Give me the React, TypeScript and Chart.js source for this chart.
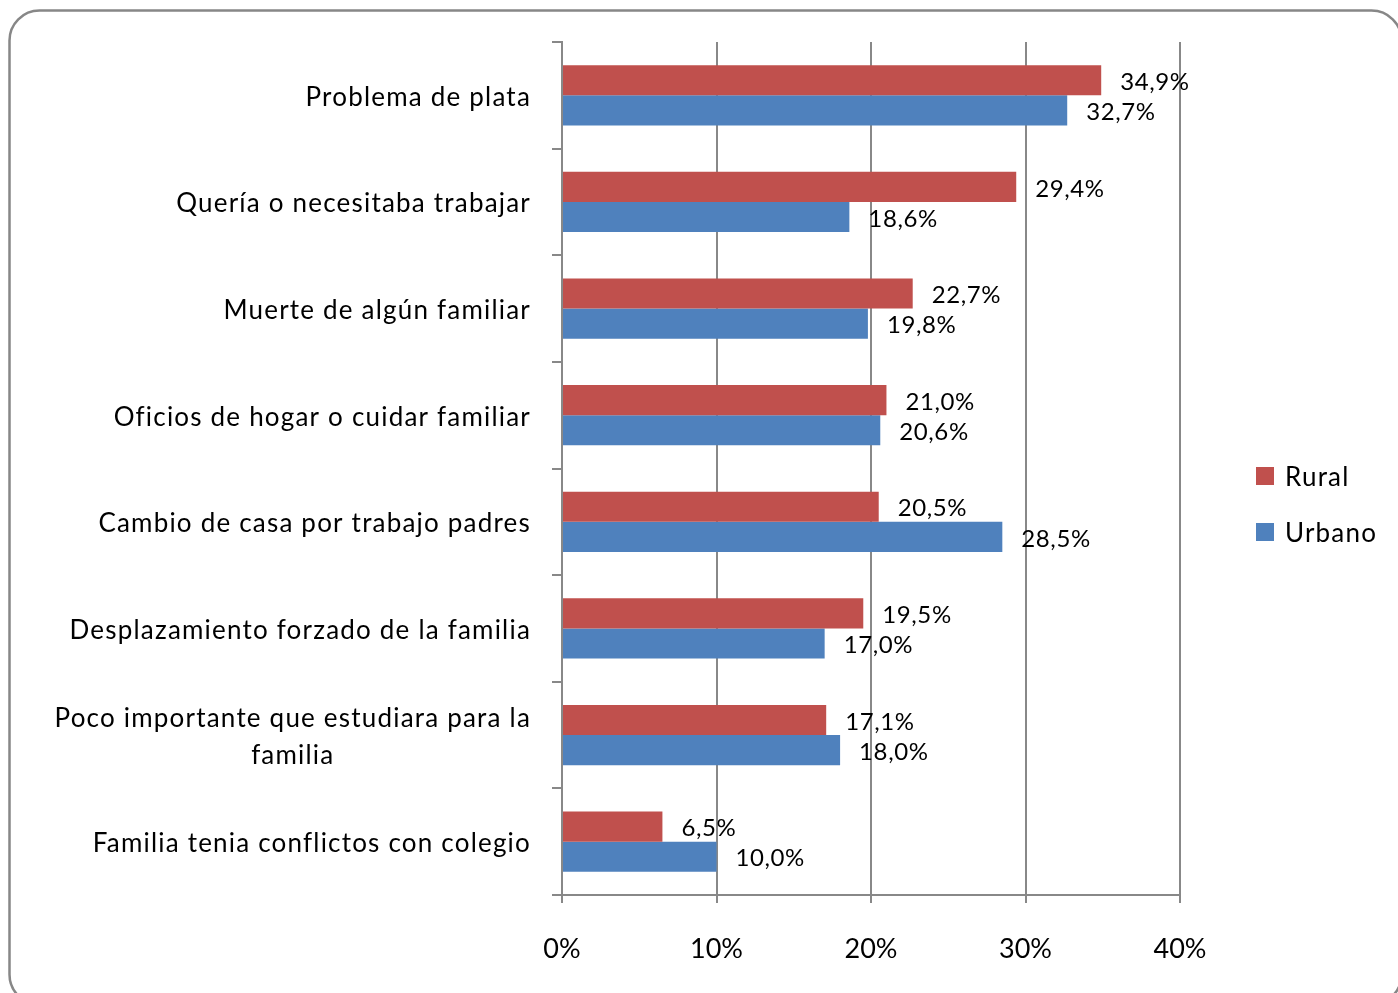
import React, { useEffect, useRef } from 'react';
import { Chart, registerables } from 'chart.js';

Chart.register(...registerables);

const categories: (string | string[])[] = [
  'Problema de plata',
  'Quería o necesitaba trabajar',
  'Muerte de algún familiar',
  'Oficios de hogar o cuidar familiar',
  'Cambio de casa por trabajo padres',
  'Desplazamiento forzado de la familia',
  ['Poco importante que estudiara para la', 'familia'],
  'Familia tenia conflictos con colegio',
];
const rural = [34.9, 29.4, 22.7, 21.0, 20.5, 19.5, 17.1, 6.5];
const urbano = [32.7, 18.6, 19.8, 20.6, 28.5, 17.0, 18.0, 10.0];
const xTicks = [0, 10, 20, 30, 40];
const seriesNames = ['Rural', 'Urbano'];
const seriesColors = ['#C0504D', '#4F81BD'];

const FONT = 'Lato, "Open Sans", sans-serif';
const GRID = '#888888';

const fmt = (v: number) => v.toFixed(1).replace('.', ',') + '%';

const framePlugin = {
  id: 'frame',
  beforeDraw(chart: any) {
    const ctx = chart.ctx;
    ctx.save();
    ctx.fillStyle = '#ffffff';
    ctx.fillRect(0, 0, chart.width, chart.height);
    ctx.strokeStyle = '#878787';
    ctx.lineWidth = 2.5;
    ctx.beginPath();
    (ctx as any).roundRect(9.5, 10.5, 1392, 994, 30);
    ctx.stroke();
    ctx.restore();
  },
};

const catLabelPlugin = {
  id: 'catLabels',
  afterDraw(chart: any) {
    const ctx = chart.ctx;
    const y = chart.scales.y;
    ctx.save();
    ctx.font = `26px ${FONT}`;
    (ctx as any).letterSpacing = '1.2px';
    ctx.fillStyle = '#000000';
    ctx.textBaseline = 'middle';
    ctx.textAlign = 'center';
    const rightX = 531;
    const lh = 37;
    categories.forEach((c, i) => {
      const lines = Array.isArray(c) ? c : [c];
      const maxW = Math.max(...lines.map((l) => ctx.measureText(l).width));
      const cx = rightX - maxW / 2;
      const cy = y.getPixelForValue(i) + 2;
      lines.forEach((l, k) => {
        const ly = cy + (k - (lines.length - 1) / 2) * lh;
        ctx.fillText(l, cx, ly);
      });
    });
    ctx.restore();
  },
};

const valueLabelPlugin = {
  id: 'valueLabels',
  afterDatasetsDraw(chart: any) {
    const ctx = chart.ctx;
    ctx.save();
    ctx.font = `24px ${FONT}`;
    (ctx as any).letterSpacing = '0.6px';
    ctx.fillStyle = '#000000';
    ctx.textBaseline = 'middle';
    ctx.textAlign = 'left';
    chart.data.datasets.forEach((ds: any, di: number) => {
      const meta = chart.getDatasetMeta(di);
      meta.data.forEach((bar: any, i: number) => {
        ctx.fillText(fmt(ds.data[i]), bar.x + 19, bar.y + 2);
      });
    });
    ctx.restore();
  },
};

const legendPlugin = {
  id: 'customLegend',
  afterDraw(chart: any) {
    const ctx = chart.ctx;
    ctx.save();
    ctx.font = `26px ${FONT}`;
    (ctx as any).letterSpacing = '1.2px';
    ctx.textBaseline = 'middle';
    ctx.textAlign = 'left';
    seriesNames.forEach((name, i) => {
      const cy = 476 + i * 56;
      ctx.fillStyle = seriesColors[i];
      ctx.fillRect(1256, cy - 9, 18, 18);
      ctx.fillStyle = '#000000';
      ctx.fillText(name, 1285, cy + 2);
    });
    ctx.restore();
  },
};

export default function App() {
  const ref = useRef<HTMLCanvasElement | null>(null);
  useEffect(() => {
    if (!ref.current) return;
    const chart = new Chart(ref.current, {
      type: 'bar',
      data: {
        labels: categories as any,
        datasets: [
          {
            label: seriesNames[0],
            data: rural,
            backgroundColor: seriesColors[0],
            categoryPercentage: 0.565,
            barPercentage: 1.0,
          },
          {
            label: seriesNames[1],
            data: urbano,
            backgroundColor: seriesColors[1],
            categoryPercentage: 0.565,
            barPercentage: 1.0,
          },
        ],
      },
      options: {
        indexAxis: 'y',
        responsive: false,
        animation: false,
        layout: {
          autoPadding: false,
          padding: { left: 0, top: 42, right: 218, bottom: 0 },
        },
        plugins: {
          legend: { display: false },
          tooltip: { enabled: false },
          title: { display: false },
        },
        scales: {
          x: {
            type: 'linear',
            min: 0,
            max: 40,
            afterBuildTicks: (s: any) => {
              s.ticks = xTicks.map((v) => ({ value: v }));
            },
            afterFit: (s: any) => {
              s.height = 98;
            },
            ticks: {
              callback: (v: any) => v + '%',
              font: { family: FONT, size: 27 },
              color: '#000000',
              padding: 30,
              maxRotation: 0,
            },
            grid: {
              color: GRID,
              lineWidth: 2,
              tickLength: 8,
              drawOnChartArea: true,
            },
            border: { display: true, color: GRID, width: 2 },
          },
          y: {
            type: 'category',
            afterFit: (s: any) => {
              s.width = 562;
            },
            ticks: { display: false },
            grid: {
              offset: true,
              drawOnChartArea: false,
              drawTicks: true,
              tickLength: 10,
              color: GRID,
              lineWidth: 2,
            },
            border: { display: true, color: GRID, width: 2 },
          },
        },
      },
      plugins: [framePlugin, valueLabelPlugin, catLabelPlugin, legendPlugin],
    });
    return () => chart.destroy();
  }, []);
  return (
    <div style={{ position: 'fixed', left: 0, top: 0, width: 1398, height: 993 }}>
      <canvas ref={ref} width={1398} height={993} style={{ width: 1398, height: 993 }} />
    </div>
  );
}
